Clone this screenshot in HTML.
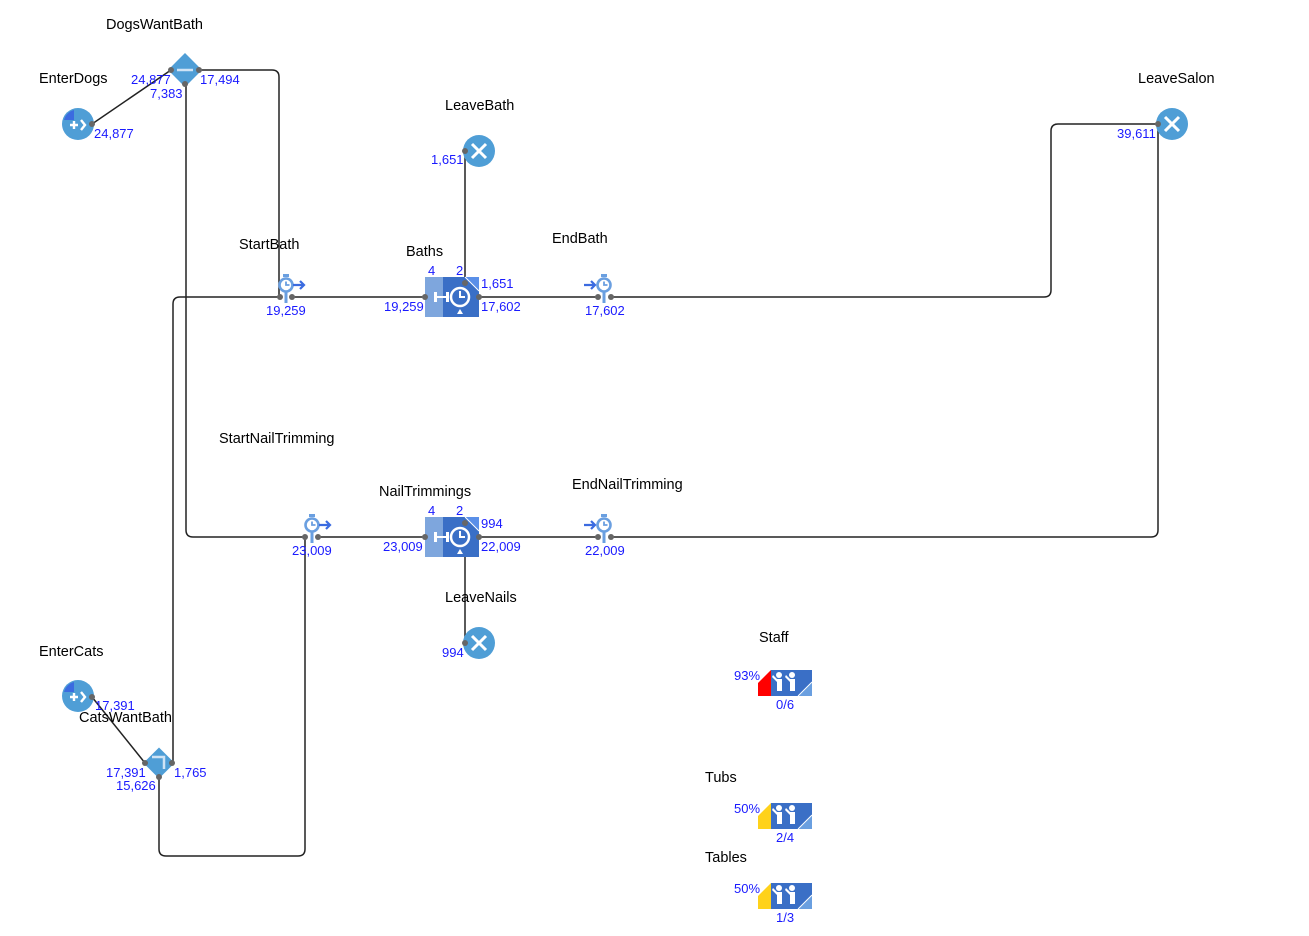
<!DOCTYPE html>
<html><head><meta charset="utf-8"><style>
html,body{margin:0;padding:0;background:#fff;}
svg{display:block;font-family:"Liberation Sans",Arial,sans-serif;}
.l{font-size:14.5px;fill:#000;}
.n{font-size:13px;fill:#1a1aff;}
.w{fill:none;stroke:#222;stroke-width:1.5;}
.p{fill:#666;}
</style></head><body>
<svg width="1309" height="936" viewBox="0 0 1309 936" xmlns="http://www.w3.org/2000/svg">
<defs>
<g id="clk"><circle r="6.5" fill="none" stroke="#6a9fe0" stroke-width="2.6"/><path d="M0,-3.5V0H3.5" stroke="#6a9fe0" stroke-width="1.8" fill="none"/><rect x="-3" y="-11" width="6" height="3" fill="#6a9fe0"/><rect x="-1.5" y="6" width="3" height="12" fill="#6a9fe0"/></g>
<g id="arr"><path d="M-6,0H5M1,-4L5,0L1,4" stroke="#3b6be0" stroke-width="2.2" fill="none"/></g>
<g id="sink"><circle r="16" fill="#4f9ed6"/><path d="M-7,-7L7,7M7,-7L-7,7" stroke="#fff" stroke-width="3"/></g>
<g id="src"><circle r="16" fill="#4f9ed6"/><path d="M-14,-4A14,14 0 0 1 -4,-14V-4Z" fill="#3b6be0"/><path d="M-8,1H0M-4,-3V5" stroke="#fff" stroke-width="2.4"/><path d="M3,-4L7,1L3,6" stroke="#fff" stroke-width="2.4" fill="none"/></g>
<g id="svc"><rect x="0" y="0" width="18" height="40" fill="#7ea6dd"/><rect x="18" y="0" width="36" height="40" fill="#3a6fc6"/><path d="M40,0H54V14Z" fill="#5a8fe8"/><path d="M40,0L54,14" stroke="#fff" stroke-width="1"/><rect x="9" y="15" width="3" height="10" fill="#fff"/><rect x="12" y="19" width="9" height="2" fill="#fff"/><rect x="21" y="15" width="3" height="10" fill="#fff"/><circle cx="35" cy="20" r="9" fill="none" stroke="#fff" stroke-width="2.5"/><path d="M35,14V20H40" stroke="#fff" stroke-width="2" fill="none"/><path d="M32,37L35,32L38,37Z" fill="#fff"/></g>
<g id="res"><rect x="13" y="0" width="41" height="26" fill="#3a6fc6"/><path d="M40,26L54,12V26Z" fill="#6a9fe0"/><path d="M40,26L54,12" stroke="#fff" stroke-width="1"/>
<g fill="#fff"><circle cx="21" cy="5" r="3"/><rect x="19" y="9" width="5" height="12"/><path d="M15,5L19,9V12L14,7Z"/><circle cx="34" cy="5" r="3"/><rect x="32" y="9" width="5" height="12"/><path d="M28,5L32,9V12L27,7Z"/></g></g>
</defs>

<path class="w" d="M92,124L171,70"/>
<path class="w" d="M199,70H272Q279,70 279,77V297"/>
<path class="w" d="M186,84V530Q186,537 193,537H305"/>
<path class="w" d="M173,763V304Q173,297 180,297H280"/>
<path class="w" d="M292,297H425"/>
<path class="w" d="M479,297H598"/>
<path class="w" d="M611,297H1044Q1051,297 1051,290V131Q1051,124 1058,124H1158"/>
<path class="w" d="M465,151V283"/>
<path class="w" d="M318,537H425"/>
<path class="w" d="M479,537H598"/>
<path class="w" d="M611,537H1151Q1158,537 1158,530V124"/>
<path class="w" d="M465,523V643"/>
<path class="w" d="M92,697L145,763"/>
<path class="w" d="M159,777V849Q159,856 166,856H298Q305,856 305,849V537"/>

<use href="#src" x="78" y="124"/>
<rect x="173" y="58" width="24" height="24" fill="#4f9ed6" transform="rotate(45 185 70)"/>
<path d="M177,70H193" stroke="#cfe3f5" stroke-width="2.5"/>
<use href="#src" x="78" y="696"/>
<rect x="148" y="752" width="22" height="22" fill="#4f9ed6" transform="rotate(45 159 763)"/>
<path d="M152,757H164V769" stroke="#cfe3f5" stroke-width="2.5" fill="none"/>

<use href="#sink" x="479" y="151"/>
<use href="#sink" x="479" y="643"/>
<use href="#sink" x="1172" y="124"/>

<use href="#clk" x="286" y="285"/><use href="#arr" x="299" y="285"/>
<use href="#clk" x="604" y="285"/><use href="#arr" x="590" y="285"/>
<use href="#clk" x="312" y="525"/><use href="#arr" x="325" y="525"/>
<use href="#clk" x="604" y="525"/><use href="#arr" x="590" y="525"/>

<use href="#svc" x="425" y="277"/>
<use href="#svc" x="425" y="517"/>

<g transform="translate(758,670)"><use href="#res"/><path d="M0,26V13L13,0V26Z" fill="#ff0000"/></g>
<g transform="translate(758,803)"><use href="#res"/><path d="M0,26V13L13,0V26Z" fill="#ffd21a"/></g>
<g transform="translate(758,883)"><use href="#res"/><path d="M0,26V13L13,0V26Z" fill="#ffd21a"/></g>

<g class="p">
<circle cx="92" cy="124" r="3"/><circle cx="171" cy="70" r="3"/><circle cx="199" cy="70" r="3"/><circle cx="185" cy="84" r="3"/>
<circle cx="280" cy="297" r="3"/><circle cx="292" cy="297" r="3"/><circle cx="425" cy="297" r="3"/><circle cx="479" cy="297" r="3"/><circle cx="465" cy="283" r="3"/>
<circle cx="598" cy="297" r="3"/><circle cx="611" cy="297" r="3"/><circle cx="465" cy="151" r="3"/><circle cx="1158" cy="124" r="3"/>
<circle cx="305" cy="537" r="3"/><circle cx="318" cy="537" r="3"/><circle cx="425" cy="537" r="3"/><circle cx="479" cy="537" r="3"/><circle cx="465" cy="523" r="3"/>
<circle cx="598" cy="537" r="3"/><circle cx="611" cy="537" r="3"/><circle cx="465" cy="643" r="3"/>
<circle cx="92" cy="697" r="3"/><circle cx="145" cy="763" r="3"/><circle cx="172" cy="763" r="3"/><circle cx="159" cy="777" r="3"/>
</g>

<text class="l" x="106" y="29">DogsWantBath</text>
<text class="l" x="39" y="83">EnterDogs</text>
<text class="l" x="445" y="110">LeaveBath</text>
<text class="l" x="1138" y="83">LeaveSalon</text>
<text class="l" x="239" y="249">StartBath</text>
<text class="l" x="406" y="256">Baths</text>
<text class="l" x="552" y="243">EndBath</text>
<text class="l" x="219" y="443">StartNailTrimming</text>
<text class="l" x="379" y="496">NailTrimmings</text>
<text class="l" x="572" y="489">EndNailTrimming</text>
<text class="l" x="445" y="602">LeaveNails</text>
<text class="l" x="39" y="656">EnterCats</text>
<text class="l" x="79" y="722">CatsWantBath</text>
<text class="l" x="759" y="642">Staff</text>
<text class="l" x="705" y="782">Tubs</text>
<text class="l" x="705" y="862">Tables</text>

<text class="n" x="131" y="84">24,877</text>
<text class="n" x="200" y="84">17,494</text>
<text class="n" x="150" y="98">7,383</text>
<text class="n" x="94" y="138">24,877</text>
<text class="n" x="431" y="164">1,651</text>
<text class="n" x="1117" y="138">39,611</text>
<text class="n" x="266" y="315">19,259</text>
<text class="n" x="428" y="275">4</text>
<text class="n" x="456" y="275">2</text>
<text class="n" x="481" y="288">1,651</text>
<text class="n" x="384" y="311">19,259</text>
<text class="n" x="481" y="311">17,602</text>
<text class="n" x="585" y="315">17,602</text>
<text class="n" x="292" y="555">23,009</text>
<text class="n" x="428" y="515">4</text>
<text class="n" x="456" y="515">2</text>
<text class="n" x="481" y="528">994</text>
<text class="n" x="383" y="551">23,009</text>
<text class="n" x="481" y="551">22,009</text>
<text class="n" x="585" y="555">22,009</text>
<text class="n" x="442" y="657">994</text>
<text class="n" x="95" y="710">17,391</text>
<text class="n" x="106" y="777">17,391</text>
<text class="n" x="174" y="777">1,765</text>
<text class="n" x="116" y="790">15,626</text>
<text class="n" x="734" y="680">93%</text>
<text class="n" x="776" y="709">0/6</text>
<text class="n" x="734" y="813">50%</text>
<text class="n" x="776" y="842">2/4</text>
<text class="n" x="734" y="893">50%</text>
<text class="n" x="776" y="922">1/3</text>
</svg>
</body></html>
